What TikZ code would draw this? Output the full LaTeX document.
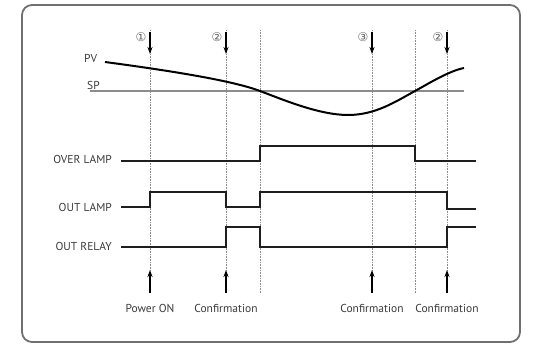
\documentclass[tikz,border=0pt]{standalone}
\usepackage{fontspec}
\setmainfont{PT Sans}
\newfontfamily\circfont{DejaVu Sans}
\usetikzlibrary{arrows.meta,positioning,calc}
\definecolor{frame}{HTML}{707070}
\definecolor{txt}{HTML}{3A3A3A}
\definecolor{sp}{HTML}{8C8C8C}
\definecolor{sig}{HTML}{1E1E1E}

\begin{document}
\begin{tikzpicture}[x=1pt,y=-1pt,font=\fontsize{11.5}{13}\selectfont,
  lbl/.style={text=txt,inner sep=1pt},
  num/.style={text=txt!80,inner sep=0pt,font=\circfont\fontsize{12}{13}\selectfont},
  sigline/.style={sig,line width=2pt,line join=miter},
  evarrow/.style={-{Stealth[length=7pt,width=5pt]},line width=1.3pt,black},
  guide/.style={densely dotted,black!45,line width=0.6pt}]
\useasboundingbox (0,0) rectangle (535,345);
\draw[frame,line width=1.8pt,rounded corners=10pt] (22,5) rectangle (520,342);
% event lines
\foreach \x in {150,226,260,372,415,447} \draw[guide] (\x,30)--(\x,293);
% PV / SP
\node[lbl,anchor=south west] (pv) at (83,64) {PV};
\node[lbl,anchor=south west] (sp) at (86,91) {SP};
\draw[sp,line width=2pt] (90,91)--(464,91);
\draw[black,line width=2pt]
  (105,62) .. controls (180,72) and (235,81.5) .. (260,91)
  .. controls (285,100.5) and (320,115) .. (348,115)
  .. controls (375,115) and (395,102) .. (415,91)
  .. controls (430,82.75) and (449,71) .. (464,68);
% signals
\node[lbl,anchor=east] (over) at (113,159) {OVER LAMP};
\node[lbl,anchor=east] (lamp) at (113,207) {OUT LAMP};
\node[lbl,anchor=east] (relay) at (113,246) {OUT RELAY};
\draw[sigline] (121,161)--(260,161)--(260,146)--(415,146)--(415,161)--(476,161);
\draw[sigline] (121,207)--(150,207)--(150,192)--(226,192)--(226,207)--(260,207)--(260,192)--(447,192)--(447,209)--(476,209);
\draw[sigline] (121,247)--(226,247)--(226,227)--(260,227)--(260,247)--(447,247)--(447,227)--(476,227);
% top marks
\foreach \x/\n/\t in {150/n1/①,226/n2/②,372/n3/③,447/n4/②}{
  \node[num] (\n) at (\x-9,37) {\t};
  \coordinate (\n a) at (\x,32);
  \coordinate (\n b) at (\x,54);
  \draw[evarrow] (\n a)--(\n b);
}
% bottom marks
\foreach \x/\n/\t in {150/b1/Power ON,226/b2/Confirmation,372/b3/Confirmation,447/b4/Confirmation}{
  \node[lbl] (\n) at (\x,308) {\t};
  \coordinate (\n a) at (\x,293);
  \coordinate (\n b) at (\x,270);
}
\draw[evarrow] (b1a)--(b1b);
\draw[evarrow] (b2a)--(b2b);
\draw[evarrow] (b3a)--(b3b);
\draw[evarrow] (b4a)--(b4b);
\end{tikzpicture}
\end{document}
